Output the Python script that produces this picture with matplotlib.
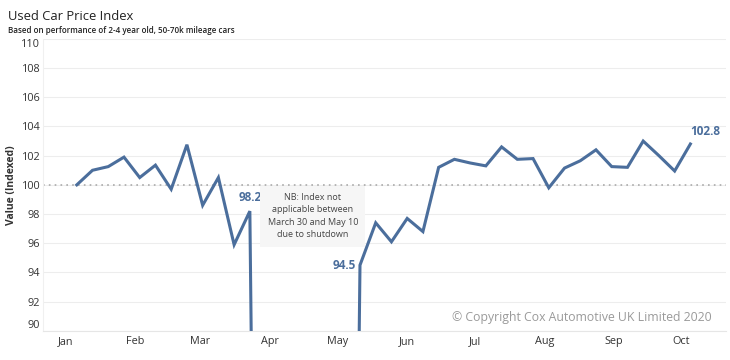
import numpy as np
import pandas as pd
import matplotlib
matplotlib.use("Agg")
import matplotlib.pyplot as plt
import matplotlib.dates as mdates

# weekly index values; 0 = not published during the shutdown
weeks = pd.date_range("2020-01-06", periods=40, freq="7D")
index_values = [100.0, 101.0, 101.25, 101.9, 100.5, 101.35, 99.7, 102.75, 98.6, 100.5, 95.9, 98.2,
                0, 0, 0, 0, 0, 0,
                94.5, 97.4, 96.1, 97.7, 96.8, 101.2, 101.75, 101.5, 101.3, 102.6, 101.75, 101.8,
                99.8, 101.15, 101.65, 102.4, 101.25, 101.2, 103.0, 102.0, 100.95, 102.8]
month_ticks = pd.date_range("2020-01-01", periods=10, freq="MS")
month_labels = ["Jan", "Feb", "Mar", "Apr", "May", "Jun", "Jul", "Aug", "Sep", "Oct"]
y_ticks = list(range(90, 111, 2))

line_col = "#4b6e9c"
txt_col = "#333333"

plt.rcParams["font.family"] = ["Open Sans", "DejaVu Sans"]

fig = plt.figure(figsize=(7.3, 3.6), dpi=100)
ax = fig.add_axes([0.059, 0.081, 0.936, 0.811])

ax.plot(weeks, index_values, color=line_col, lw=2.2, solid_joinstyle="miter", zorder=3)
ax.axhline(100, color="#aaaaaa", lw=1.2, ls=(0, (1, 2.5)), zorder=2)

ax.set_ylim(90, 110)
ax.set_xlim(pd.Timestamp("2019-12-22"), pd.Timestamp("2020-10-21"))
ax.set_yticks(y_ticks)
ax.set_xticks(month_ticks)
ax.set_xticklabels(month_labels)
ax.tick_params(length=0, labelsize=7.8, colors=txt_col)
ax.tick_params(axis="y", pad=2)
ax.grid(axis="y", color="#ededed", lw=0.8, zorder=0)
for s in ["top", "right"]:
    ax.spines[s].set_visible(False)
ax.spines["left"].set_color("#f0f0f0")
ax.spines["bottom"].set_color("#e6e6e6")
ylabs = ax.get_yticklabels()
ylabs[0].set_va("bottom")
ylabs[-1].set_va("top")

ax.set_ylabel("Value (Indexed)", fontsize=7.5, fontweight="bold", color=txt_col)
ax.yaxis.set_label_coords(-0.038, 0.5)

# value labels
i_mar = 11
i_may = 18
ax.annotate(f"{index_values[i_mar]:.1f}", (weeks[i_mar], index_values[i_mar]), xytext=(0, 5),
            textcoords="offset points", ha="center", va="bottom", color=line_col,
            fontsize=8.5, fontweight="bold")
ax.annotate(f"{index_values[i_may]:.1f}", (weeks[i_may], index_values[i_may]), xytext=(-3, 0),
            textcoords="offset points", ha="right", va="center", color=line_col,
            fontsize=8.5, fontweight="bold")
ax.annotate(f"{index_values[-1]:.1f}", (weeks[-1], index_values[-1]), xytext=(0, 4),
            textcoords="offset points", ha="left", va="bottom", color=line_col,
            fontsize=8.5, fontweight="bold")

ax.text(pd.Timestamp("2020-04-20"), 97.85,
        "NB: Index not\napplicable between\nMarch 30 and May 10\ndue to shutdown",
        ha="center", va="center", fontsize=6.5, color="#444444", linespacing=1.5,
        bbox=dict(boxstyle="square,pad=0.8", fc="#f6f6f6", ec="none"), zorder=4)

ax.text(0.978, 0.045, "\u00a9 Copyright Cox Automotive UK Limited 2020", transform=ax.transAxes,
        ha="right", va="center", fontsize=8.8, color="#9a9a9a")

fig.text(0.011, 0.955, "Used Car Price Index", fontsize=9.4, color="#222222", va="center")
fig.text(0.011, 0.915, "Based on performance of 2-4 year old, 50-70k mileage cars", fontsize=5.8,
         color="#222222", va="center", fontweight="semibold")

fig.savefig("out.png", dpi=100, facecolor="white")
